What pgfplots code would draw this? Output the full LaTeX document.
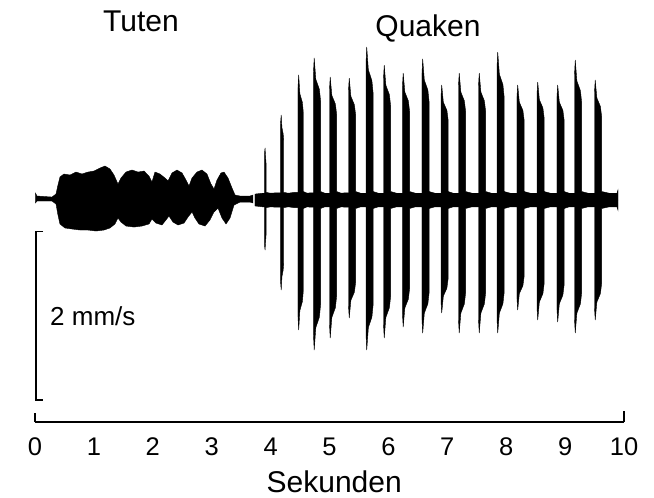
\documentclass[border=0pt]{standalone}
\usepackage{fontspec}
\setmainfont{Liberation Sans}
\usepackage{pgfplots}
\pgfplotsset{compat=1.18}
\begin{document}
\begin{tikzpicture}
\begin{axis}[
  scale only axis, width=589pt, height=382pt,
  xmin=0, xmax=10, ymin=-2.612, ymax=1.882,
  axis x line=bottom, axis y line=none,
  x axis line style={-, line width=1.4pt},
  xtick={0,1,...,10}, major tick length=0pt,
  ytick=\empty,
  tick label style={font=\fontsize{25.5}{28}\selectfont},
  xticklabel style={anchor=base, inner sep=0pt, yshift=-33pt},
  /pgf/number format/assume math mode=true,
  clip=false, no markers,
]
% end ticks of the time bracket
\addplot[black, line width=1.4pt] coordinates {(0,-2.612) (0,-2.50)};
\addplot[black, line width=1.4pt] coordinates {(10,-2.612) (10,-2.48)};
% scale bar 2 mm/s
\addplot[black, line width=1.4pt] coordinates {(0.137,-0.373) (0.017,-0.373) (0.017,-2.353) (0.137,-2.353)};

% Tuten envelope (closed polygon)
\addplot[fill=black, draw=black, line width=0.4pt] coordinates {
(0.008,0.024) (0.008,0.082) (0.034,0.047) (0.289,0.035) (0.357,0.071) (0.390,0.176)
(0.424,0.271) (0.492,0.306) (0.594,0.294) (0.696,0.329) (0.798,0.306) (0.900,0.329)
(1.002,0.341) (1.104,0.376) (1.188,0.400) (1.273,0.365) (1.341,0.294) (1.409,0.188)
(1.460,0.259) (1.545,0.329) (1.647,0.353) (1.749,0.329) (1.851,0.341) (1.935,0.282)
(1.986,0.212) (2.037,0.329) (2.122,0.306) (2.207,0.259) (2.258,0.224) (2.326,0.318)
(2.411,0.353) (2.496,0.318) (2.564,0.235) (2.615,0.165) (2.666,0.259) (2.750,0.329)
(2.835,0.353) (2.920,0.306) (2.988,0.188) (3.039,0.129) (3.090,0.235) (3.158,0.318)
(3.209,0.329) (3.277,0.259) (3.345,0.141) (3.396,0.059) (3.480,0.047) (3.650,0.047)
(3.701,0.059) (3.701,0.012)
(3.701,-0.035) (3.650,-0.024) (3.480,-0.024) (3.379,-0.059) (3.311,-0.212) (3.243,-0.282)
(3.175,-0.212) (3.107,-0.094) (3.039,-0.141) (2.971,-0.235) (2.886,-0.306) (2.784,-0.282)
(2.716,-0.212) (2.666,-0.141) (2.598,-0.200) (2.530,-0.271) (2.428,-0.294) (2.343,-0.259)
(2.275,-0.188) (2.224,-0.235) (2.156,-0.294) (2.054,-0.271) (1.986,-0.224) (1.935,-0.282)
(1.817,-0.306) (1.681,-0.318) (1.545,-0.306) (1.460,-0.259) (1.409,-0.212) (1.358,-0.282)
(1.273,-0.329) (1.171,-0.353) (1.036,-0.365) (0.900,-0.353) (0.764,-0.353) (0.628,-0.341)
(0.509,-0.329) (0.424,-0.282) (0.390,-0.176) (0.357,-0.047) (0.289,-0.012) (0.034,-0.012)
(0.008,-0.035)
} -- cycle;

% Quaken upper envelope
\addplot[fill=black, draw=black, line width=0.4pt] coordinates {
(3.735,0) (3.735,0.07) (3.80,0.075) (3.86,0.08)
(3.896,0.08) (3.896,0.55) (3.906,0.612) (3.916,0.5) (3.926,0.4) (3.926,0.09)
(4.00,0.08) (4.10,0.085)
(4.168,0.085) (4.168,0.9) (4.180,1.0) (4.193,0.85) (4.213,0.78) (4.223,0.7) (4.223,0.09)
(4.30,0.08) (4.40,0.09)
(4.465,0.09) (4.465,1.324) (4.477,1.471) (4.497,1.250) (4.540,1.147) (4.555,1.030) (4.555,0.1)
(4.62,0.08) (4.68,0.085)
(4.728,0.085) (4.728,1.504) (4.740,1.671) (4.768,1.420) (4.828,1.303) (4.848,1.170) (4.848,0.1)
(4.92,0.08)
(5.000,0.08) (5.000,1.302) (5.012,1.447) (5.040,1.230) (5.100,1.129) (5.120,1.013) (5.120,0.1)
(5.20,0.08) (5.27,0.085)
(5.323,0.085) (5.323,1.292) (5.335,1.435) (5.363,1.220) (5.423,1.119) (5.443,1.005) (5.443,0.1)
(5.53,0.08)
(5.620,0.08) (5.620,1.620) (5.632,1.800) (5.660,1.530) (5.720,1.404) (5.740,1.260) (5.740,0.1)
(5.83,0.08)
(5.917,0.08) (5.917,1.429) (5.929,1.588) (5.957,1.350) (6.017,1.239) (6.037,1.112) (6.037,0.1)
(6.14,0.08)
(6.239,0.08) (6.239,1.345) (6.251,1.494) (6.279,1.270) (6.339,1.165) (6.359,1.046) (6.359,0.1)
(6.46,0.08)
(6.570,0.08) (6.570,1.493) (6.582,1.659) (6.610,1.410) (6.670,1.294) (6.690,1.161) (6.690,0.1)
(6.79,0.08)
(6.893,0.08) (6.893,1.218) (6.905,1.353) (6.933,1.150) (6.993,1.055) (7.013,0.947) (7.013,0.1)
(7.10,0.08)
(7.190,0.08) (7.190,1.345) (7.202,1.494) (7.230,1.270) (7.290,1.165) (7.310,1.046) (7.310,0.1)
(7.42,0.08)
(7.530,0.08) (7.530,1.345) (7.542,1.494) (7.570,1.270) (7.630,1.165) (7.650,1.046) (7.650,0.1)
(7.75,0.08)
(7.844,0.08) (7.844,1.567) (7.856,1.741) (7.884,1.480) (7.944,1.358) (7.964,1.219) (7.964,0.1)
(8.07,0.08)
(8.183,0.08) (8.183,1.218) (8.195,1.353) (8.223,1.150) (8.283,1.055) (8.303,0.947) (8.303,0.1)
(8.41,0.08)
(8.523,0.08) (8.523,1.249) (8.535,1.388) (8.563,1.180) (8.623,1.083) (8.643,0.972) (8.643,0.1)
(8.75,0.08)
(8.862,0.08) (8.862,1.218) (8.874,1.353) (8.902,1.150) (8.962,1.055) (8.982,0.947) (8.982,0.1)
(9.07,0.08)
(9.160,0.08) (9.160,1.482) (9.172,1.647) (9.200,1.400) (9.260,1.285) (9.280,1.153) (9.280,0.1)
(9.39,0.08)
(9.499,0.08) (9.499,1.271) (9.511,1.412) (9.539,1.200) (9.599,1.101) (9.619,0.988) (9.619,0.1)
(9.75,0.08) (9.88,0.08) (9.898,0.12) (9.898,0)
} -- cycle;

% Quaken lower envelope
\addplot[fill=black, draw=black, line width=0.4pt] coordinates {
(3.735,0) (3.735,-0.07) (3.80,-0.075) (3.86,-0.08)
(3.896,-0.08) (3.896,-0.53) (3.906,-0.588) (3.916,-0.48) (3.926,-0.38) (3.926,-0.09)
(4.00,-0.08) (4.10,-0.085)
(4.168,-0.085) (4.168,-0.953) (4.180,-1.059) (4.193,-0.900) (4.213,-0.826) (4.223,-0.741) (4.223,-0.09)
(4.30,-0.08) (4.40,-0.09)
(4.465,-0.09) (4.465,-1.376) (4.477,-1.529) (4.497,-1.300) (4.540,-1.193) (4.555,-1.070) (4.555,-0.1)
(4.62,-0.08) (4.68,-0.085)
(4.728,-0.085) (4.728,-1.589) (4.740,-1.765) (4.768,-1.500) (4.828,-1.377) (4.848,-1.236) (4.848,-0.1)
(4.92,-0.08)
(5.000,-0.08) (5.000,-1.462) (5.012,-1.624) (5.040,-1.380) (5.100,-1.267) (5.120,-1.137) (5.120,-0.1)
(5.20,-0.08) (5.27,-0.085)
(5.323,-0.085) (5.323,-1.249) (5.335,-1.388) (5.363,-1.180) (5.423,-1.083) (5.443,-0.972) (5.443,-0.1)
(5.53,-0.08)
(5.620,-0.08) (5.620,-1.589) (5.632,-1.765) (5.660,-1.500) (5.720,-1.377) (5.740,-1.236) (5.740,-0.1)
(5.83,-0.08)
(5.917,-0.08) (5.917,-1.462) (5.929,-1.624) (5.957,-1.380) (6.017,-1.267) (6.037,-1.137) (6.037,-0.1)
(6.14,-0.08)
(6.239,-0.08) (6.239,-1.345) (6.251,-1.494) (6.279,-1.270) (6.339,-1.165) (6.359,-1.046) (6.359,-0.1)
(6.46,-0.08)
(6.570,-0.08) (6.570,-1.409) (6.582,-1.565) (6.610,-1.330) (6.670,-1.221) (6.690,-1.096) (6.690,-0.1)
(6.79,-0.08)
(6.893,-0.08) (6.893,-1.196) (6.905,-1.329) (6.933,-1.130) (6.993,-1.037) (7.013,-0.930) (7.013,-0.1)
(7.10,-0.08)
(7.190,-0.08) (7.190,-1.409) (7.202,-1.565) (7.230,-1.330) (7.290,-1.221) (7.310,-1.096) (7.310,-0.1)
(7.42,-0.08)
(7.530,-0.08) (7.530,-1.409) (7.542,-1.565) (7.570,-1.330) (7.630,-1.221) (7.650,-1.096) (7.650,-0.1)
(7.75,-0.08)
(7.844,-0.08) (7.844,-1.409) (7.856,-1.565) (7.884,-1.330) (7.944,-1.221) (7.964,-1.096) (7.964,-0.1)
(8.07,-0.08)
(8.183,-0.08) (8.183,-1.165) (8.195,-1.294) (8.223,-1.100) (8.283,-1.009) (8.303,-0.906) (8.303,-0.1)
(8.41,-0.08)
(8.523,-0.08) (8.523,-1.271) (8.535,-1.412) (8.563,-1.200) (8.623,-1.101) (8.643,-0.988) (8.643,-0.1)
(8.75,-0.08)
(8.862,-0.08) (8.862,-1.292) (8.874,-1.435) (8.902,-1.220) (8.962,-1.119) (8.982,-1.005) (8.982,-0.1)
(9.07,-0.08)
(9.160,-0.08) (9.160,-1.409) (9.172,-1.565) (9.200,-1.330) (9.260,-1.221) (9.280,-1.096) (9.280,-0.1)
(9.39,-0.08)
(9.499,-0.08) (9.499,-1.271) (9.511,-1.412) (9.539,-1.200) (9.599,-1.101) (9.619,-0.988) (9.619,-0.1)
(9.75,-0.08) (9.88,-0.08) (9.898,-0.12) (9.898,0)
} -- cycle;

% texts
\node[anchor=base, font=\fontsize{30}{34}\selectfont] at (axis cs:1.80,1.98) {Tuten};
\node[anchor=base, font=\fontsize{30}{34}\selectfont] at (axis cs:6.672,1.921) {Quaken};
\node[anchor=base, font=\fontsize{30}{34}\selectfont] at (axis cs:5.08,-3.435) {Sekunden};
\node[anchor=base west, inner sep=0pt, font=\fontsize{26}{30}\selectfont] at (axis cs:0.255,-1.471) {2 mm/s};

\coordinate (bbll) at (axis cs:-0.594,-3.494);
\coordinate (bbur) at (axis cs:10.509,2.353);
\end{axis}
\pgfresetboundingbox
\path (bbll) rectangle (bbur);
\end{tikzpicture}
\end{document}
